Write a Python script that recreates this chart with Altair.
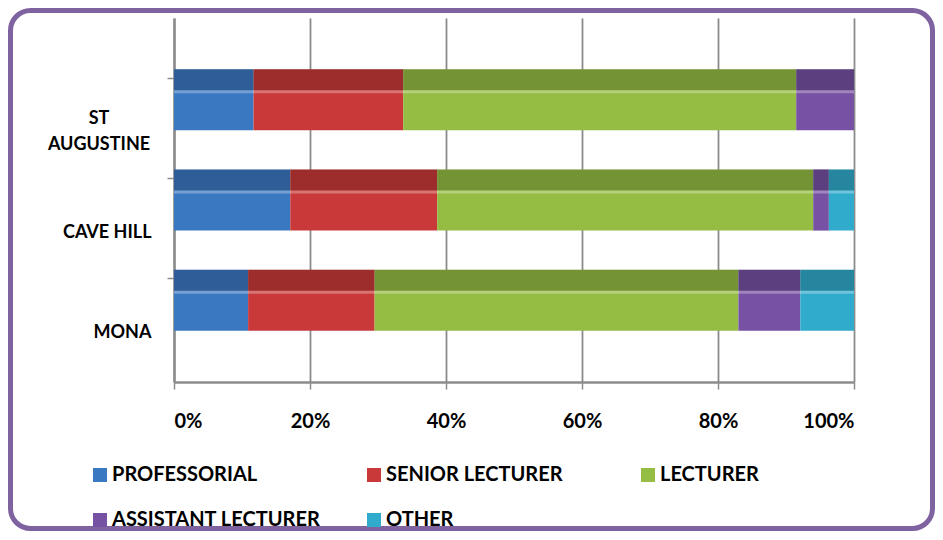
import altair as alt
import pandas as pd

campuses = ["ST AUGUSTINE", "CAVE HILL", "MONA"]
ranks = ["PROFESSORIAL", "SENIOR LECTURER", "LECTURER", "ASSISTANT LECTURER", "OTHER"]
professorial = [11.7, 17.1, 10.9]
senior_lecturer = [22.0, 21.6, 18.6]
lecturer = [57.8, 55.3, 53.5]
assistant_lecturer = [8.5, 2.3, 9.1]
other = [0.0, 3.7, 7.9]
colors = ["#3b78c2", "#c93939", "#95bd44", "#7751a3", "#31abcc"]
x_ticks = [0, 0.2, 0.4, 0.6, 0.8, 1.0]

series = [professorial, senior_lecturer, lecturer, assistant_lecturer, other]
rows = []
for i, (rank, vals) in enumerate(zip(ranks, series)):
    for c, v in zip(campuses, vals):
        if v > 0:
            rows.append({"campus": c, "rank": rank, "order": i, "value": v})
df = pd.DataFrame(rows)

GRID = "#8c8c8c"
label_expr = "datum.value == 'ST AUGUSTINE' ? '' : datum.label"

x_enc = alt.X(
    "value:Q",
    stack="normalize",
    scale=alt.Scale(domain=[0, 1]),
    axis=alt.Axis(
        values=x_ticks, format=".0%", title=None,
        grid=True, gridColor=GRID, gridWidth=1.8,
        domainColor=GRID, domainWidth=2.5,
        tickColor=GRID, tickSize=7, tickWidth=1.5,
        labelFont="Lato", labelFontSize=20, labelFontWeight="bold",
        labelColor="black", labelPadding=22,
    ),
)
y_enc = alt.Y(
    "campus:N",
    sort=campuses,
    scale=alt.Scale(paddingInner=0.39, paddingOuter=0.51),
    axis=alt.Axis(
        title=None, tickOffset=-22, labelOffset=54,
        labelExpr=label_expr,
        domainColor=GRID, domainWidth=2.5,
        tickColor=GRID, tickSize=7, tickWidth=1.5,
        labelFont="Lato", labelFontSize=18, labelFontWeight="bold",
        labelColor="black", labelPadding=16, labelAlign="right",
    ),
)
order_enc = alt.Order("order:Q", sort="ascending")

base = alt.Chart(df)

bars = base.mark_bar().encode(
    x=x_enc,
    y=y_enc,
    order=order_enc,
    color=alt.Color(
        "rank:N",
        scale=alt.Scale(domain=ranks, range=colors),
        legend=alt.Legend(
            title=None, orient="none", legendX=-84, legendY=447,
            direction="horizontal", columns=3, columnPadding=43, rowPadding=25,
            gridAlign="all", symbolType="square", symbolSize=196,
            symbolStrokeWidth=0, labelOffset=2, labelLimit=400,
            labelFont="Lato", labelFontSize=20, labelFontWeight="bold",
            labelColor="black",
        ),
    ),
)

dark = base.mark_bar(height=21, yOffset=-20, color="black", opacity=0.22).encode(
    x=x_enc, y=y_enc, order=order_enc, detail="rank:N"
)
shine = base.mark_bar(height=3, yOffset=-8, color="white", opacity=0.3).encode(
    x=x_enc, y=y_enc, order=order_enc, detail="rank:N"
)

two_line = alt.Chart(pd.DataFrame({"campus": [campuses[0]]})).mark_text(
    align="center", baseline="middle", lineBreak=" ", lineHeight=26, dy=19,
    font="Lato", fontSize=18, fontWeight="bold", color="black",
).encode(
    x=alt.value(-75), y=alt.Y("campus:N", sort=campuses), text="campus:N"
)

frame = alt.Chart(pd.DataFrame({"f": [0]})).mark_rect(
    fillOpacity=0, stroke="#7f63a1", strokeWidth=5, cornerRadius=20
).encode(
    x=alt.value(-163.5), x2=alt.value(758.5), y=alt.value(-7.5), y2=alt.value(510.5)
)

chart = alt.layer(frame, bars, dark, shine, two_line).properties(
    width=680,
    height=364,
    autosize=alt.AutoSizeParams(type="none"),
    padding={"left": 166, "top": 10, "right": 81, "bottom": 149},
    background="white",
).configure_view(stroke=None)

chart.save("out.html", embed_options={"renderer": "svg", "actions": False})
